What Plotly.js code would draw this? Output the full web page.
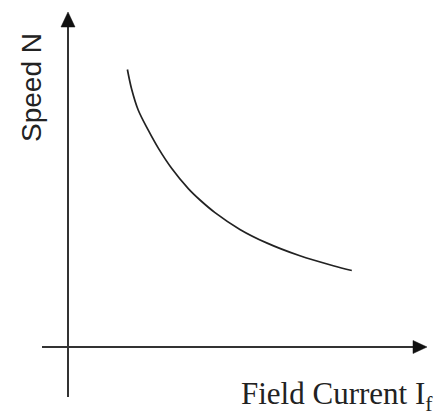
<!DOCTYPE html>
<html>
<head>
<meta charset="utf-8">
<script src="https://cdn.plot.ly/plotly-3.0.1.min.js"></script>
<style>html,body{margin:0;padding:0;background:#fff;}#chart{width:439px;height:418px;}</style>
</head>
<body>
<div id="chart"></div>
<script>
// Data (arbitrary units, origin at axis intersection)
const fieldCurrent = [1.98, 2.12, 2.34, 2.68, 3.01, 3.46, 4.01, 4.4, 4.9, 5.73, 6.62, 7.73, 8.84, 9.46];
const speed        = [9.25, 8.6, 7.9, 7.22, 6.63, 5.95, 5.28, 4.9, 4.48, 3.92, 3.47, 3.04, 2.71, 2.55];
const xLabel = "Field Current I<sub>f</sub>";
const yLabel = "Speed N";

const W = 439, H = 418;
const unit = 30;           // px per data unit
const ox = 68, oy = 347;   // origin in px
const xr = [-ox / unit, (W - ox) / unit];
const yr = [(oy - H) / unit, oy / unit];
const px = v => (v - ox) / unit;
const py = v => (oy - v) / unit;

const axisColor = "#333";
const shapes = [
  {type: "line", xref: "x", yref: "y", x0: px(42), x1: px(416), y0: 0, y1: 0, line: {color: axisColor, width: 2}},
  {type: "line", xref: "x", yref: "y", x0: 0, x1: 0, y0: py(397), y1: py(24), line: {color: axisColor, width: 2}},
  {type: "path", xref: "x", yref: "y",
   path: `M ${px(427)} 0 L ${px(413)} ${6.5/unit} L ${px(413)} ${-6.5/unit} Z`,
   fillcolor: "#111", line: {color: "#111", width: 0.5}},
  {type: "path", xref: "x", yref: "y",
   path: `M 0 ${py(12)} L ${7/unit} ${py(27)} L ${-7/unit} ${py(27)} Z`,
   fillcolor: "#111", line: {color: "#111", width: 0.5}}
];

const trace = {
  x: fieldCurrent, y: speed, mode: "lines", type: "scatter",
  line: {color: "#222", width: 1.7, shape: "spline", smoothing: 1},
  hoverinfo: "skip"
};

const layout = {
  width: W, height: H,
  margin: {l: 0, r: 0, t: 0, b: 0},
  paper_bgcolor: "#fff", plot_bgcolor: "#fff",
  showlegend: false,
  xaxis: {range: xr, visible: false, fixedrange: true},
  yaxis: {range: yr, visible: false, fixedrange: true},
  shapes: shapes,
  annotations: [
    {text: yLabel, xref: "paper", yref: "paper", x: 31 / W, y: 1 - 88 / H,
     xanchor: "center", yanchor: "middle", textangle: -90, showarrow: false,
     font: {family: "Liberation Sans, Arial, sans-serif", size: 28, color: "#222"}},
    {text: xLabel, xref: "paper", yref: "paper", x: 435 / W, y: 1 - 396 / H,
     xanchor: "right", yanchor: "middle", showarrow: false,
     font: {family: "Liberation Serif, Times New Roman, serif", size: 31, color: "#222"}}
  ]
};

Plotly.newPlot("chart", [trace], layout, {staticPlot: true, displayModeBar: false});
</script>
</body>
</html>
